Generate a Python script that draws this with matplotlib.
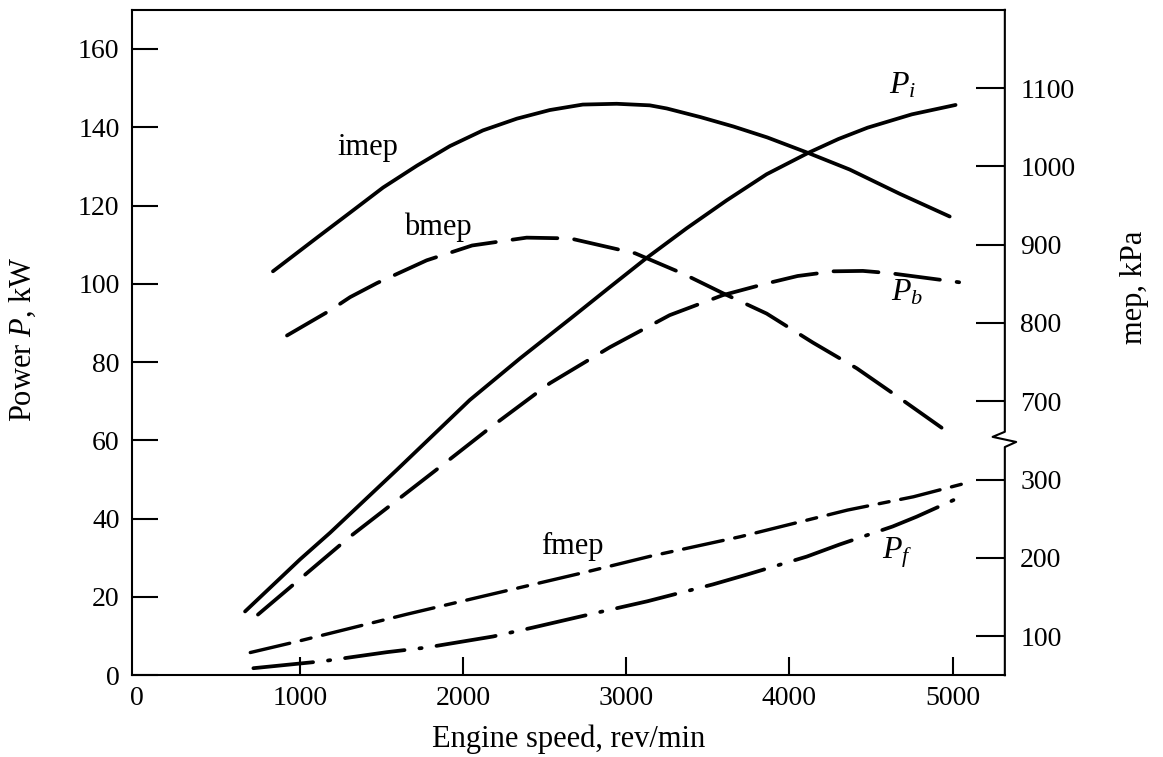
import numpy as np
import matplotlib
matplotlib.use("Agg")
import matplotlib.pyplot as plt
import matplotlib.transforms as mtransforms

plt.rcParams['font.family'] = 'Liberation Serif'
plt.rcParams['mathtext.fontset'] = 'custom'
plt.rcParams['mathtext.rm'] = 'Liberation Serif'
plt.rcParams['mathtext.it'] = 'Liberation Serif:italic'

# power curves, kW
pi_rpm = [663, 1000, 1184, 1594, 2040, 2350, 2654, 2900, 3124, 3370, 3614, 3860, 4117, 4300, 4479, 4750, 5018]
pi_kw = [16.3, 29.6, 36.4, 52.5, 70.3, 81.0, 91.0, 99.2, 106.6, 114.2, 121.3, 128.0, 133.5, 137.0, 139.9, 143.3, 145.7]

pb_rpm = [742, 1306, 1876, 2164, 2531, 2899, 3266, 3591, 3860, 4050, 4270, 4450, 4620, 5040]
pb_kw = [15.5, 35.4, 53.8, 63.2, 74.6, 83.8, 92.0, 97.1, 100.1, 102.0, 103.2, 103.3, 102.7, 100.4]

pf_rpm = [714, 1143, 1533, 1778, 2183, 2429, 2822, 3129, 3530, 3738, 4105, 4307, 4632, 4779, 5024]
pf_kw = [1.8, 3.6, 5.9, 7.1, 9.9, 12.2, 16.0, 18.9, 23.2, 25.7, 30.3, 33.4, 38.0, 40.5, 45.1]

# mean effective pressures, kPa
imep_rpm = [834, 1104, 1307, 1509, 1717, 1919, 2121, 2329, 2531, 2733, 2941, 3144, 3248, 3454, 3656,
            3864, 4117, 4369, 4676, 4982]
imep_kpa = [866, 909, 941, 973, 1001, 1026, 1046, 1061, 1072, 1079, 1080, 1078, 1074, 1063, 1051,
            1037, 1017, 996, 965, 936]

bmep_rpm = [920, 1184, 1307, 1472, 1776, 2055, 2389, 2656, 3054, 3347, 3592, 3860, 4143, 4413, 4676, 4995]
bmep_kpa = [784, 816, 833, 851, 880, 899, 909, 908, 889, 863, 838, 812, 775, 742, 704, 657]

fmep_rpm = [695, 980, 1656, 2123, 2736, 3147, 3699, 4356, 4760, 5110]
fmep_kpa = [79, 93, 128, 151, 181, 202, 227, 261, 278, 297]

x_ticks = [0, 1000, 2000, 3000, 4000, 5000]
p_ticks = [0, 20, 40, 60, 80, 100, 120, 140, 160]
mep_lo_ticks = [100, 200, 300]
mep_hi_ticks = [700, 800, 900, 1000, 1100]


# right scale is broken: two linear pieces onto the kW axis
def mep_lo(v):
    return np.asarray(v) / 5.0 - 10.0


def mep_hi(v):
    return np.asarray(v) / 5.0 - 70.0


fig = plt.figure(figsize=(11.63, 7.57), dpi=100)
ax = fig.add_axes([0.1135, 0.108, 0.7505, 0.879])

lw = 2.7
ax.plot(pi_rpm, pi_kw, color='black', lw=lw, solid_capstyle='round')
ax.plot(imep_rpm, mep_hi(imep_kpa), color='black', lw=lw, solid_capstyle='round')
ax.plot(pb_rpm, pb_kw, color='black', lw=lw, dashes=(12, 4.5), dash_capstyle='round')
ax.plot(bmep_rpm, mep_hi(bmep_kpa), color='black', lw=lw, dashes=(12, 4.5), dash_capstyle='round')
ax.plot(fmep_rpm, mep_lo(fmep_kpa), color='black', lw=lw * 0.9, dashes=(12, 3.5, 3, 3.5), dash_capstyle='round')
ax.plot(pf_rpm, pf_kw, color='black', lw=lw, dashes=(16, 4, 0.6, 4), dash_capstyle='round')

ax.set_xlim(-30, 5320)
ax.set_ylim(0, 170)

ax.set_xticks(x_ticks)
ax.set_yticks(p_ticks)
ax.tick_params(axis='x', direction='in', length=13, width=1.5, pad=8, labelsize=20)
ax.tick_params(axis='y', direction='in', length=19, width=1.5, pad=9, labelsize=20)
ax.xaxis.get_major_ticks()[0].tick1line.set_visible(False)
ax.yaxis.get_major_ticks()[0].tick1line.set_visible(False)
for s in ['left', 'bottom', 'top']:
    ax.spines[s].set_linewidth(1.5)
ax.spines['right'].set_visible(False)

ax.set_xlabel('Engine speed, rev/min', fontsize=22)
ax.set_ylabel('Power $P$, kW', fontsize=22)
ax.xaxis.set_label_coords(0.5, -0.074)
ax.yaxis.set_label_coords(-0.108, 0.505)

# right mep axis
ax2 = ax.twinx()
ax2.set_ylim(ax.get_ylim())
r_pos = list(mep_lo(mep_lo_ticks)) + list(mep_hi(mep_hi_ticks))
r_lab = [str(v) for v in mep_lo_ticks + mep_hi_ticks]
ax2.set_yticks(r_pos)
ax2.set_yticklabels(r_lab)
ax2.tick_params(axis='y', direction='in', length=21, width=1.5, pad=11, labelsize=20)
for s in ax2.spines.values():
    s.set_visible(False)
ax.text(1.149, 0.583, 'mep, kPa', transform=ax.transAxes, rotation=90,
        ha='center', va='center', fontsize=22)

# broken right spine
trans = mtransforms.blended_transform_factory(ax.transAxes, ax.transData)
bx = [1.0, 1.0, 1.013, 0.986, 1.0, 1.0]
by = [0, 58.3, 59.6, 60.9, 62.2, 170]
ax.plot(bx, by, color='black', lw=1.5, transform=trans, clip_on=False)

# curve labels
ax.text(1416, 134.8, 'imep', fontsize=22, ha='center', va='center')
ax.text(1846, 114.4, 'bmep', fontsize=22, ha='center', va='center')
ax.text(2672, 32.9, 'fmep', fontsize=22, ha='center', va='center')
ax.text(4694, 150.6, '$P_i$', fontsize=23, ha='center', va='center')
ax.text(4718, 97.6, '$P_b$', fontsize=23, ha='center', va='center')
ax.text(4663, 31.3, '$P_f$', fontsize=23, ha='center', va='center')

fig.savefig('out.png', dpi=100)
